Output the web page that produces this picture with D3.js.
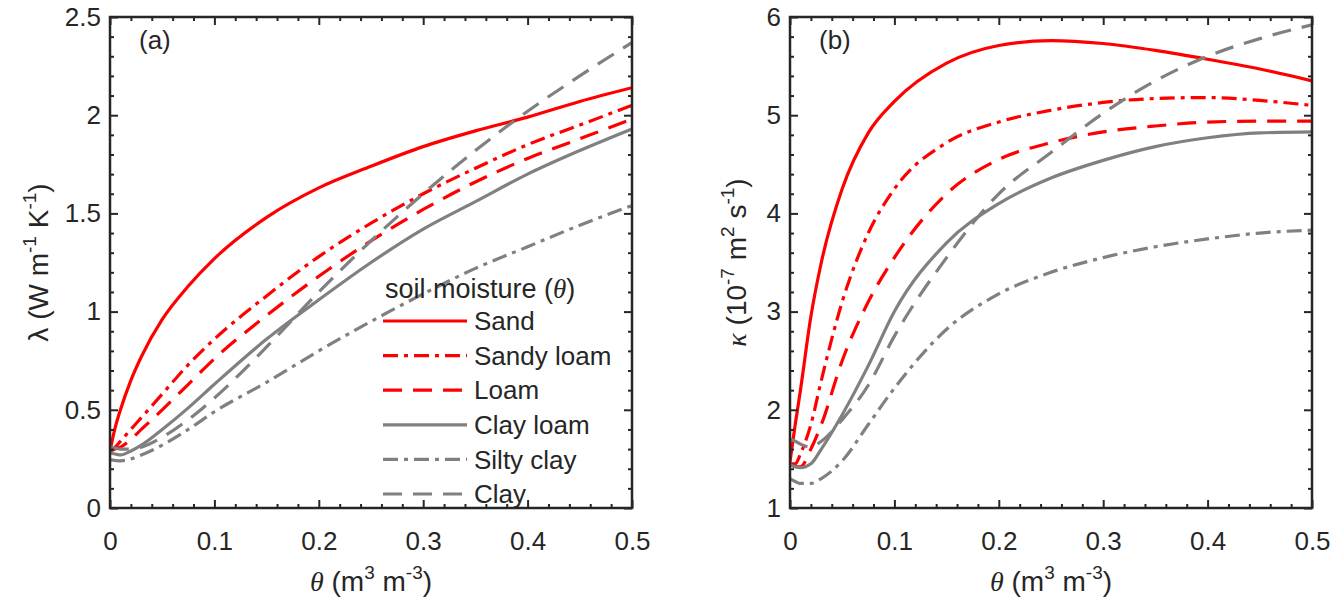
<!DOCTYPE html>
<html>
<head>
<meta charset="utf-8">
<script src="https://cdn.jsdelivr.net/npm/d3@7"></script>
<style>
  body { margin: 0; background: #fff; }
  text { font-family: "Liberation Sans", Arial, sans-serif; fill: #262626; }
  .serif { font-family: "Liberation Serif", "Times New Roman", serif; font-style: italic; }
</style>
</head>
<body>
<div id="chart"></div>
<script>
// soil moisture grid (m3 m-3)
var thetaGrid = [0, 0.005, 0.01, 0.02, 0.03, 0.05, 0.075, 0.1, 0.15, 0.2, 0.25, 0.3, 0.35, 0.4, 0.45, 0.5];

var soilNames = ["Sand", "Sandy loam", "Loam", "Clay loam", "Silty clay", "Clay"];

// (a) thermal conductivity, W m-1 K-1
var lambdaSand      = [0.29, 0.41, 0.50, 0.65, 0.77, 0.96, 1.13, 1.27, 1.48, 1.63, 1.74, 1.84, 1.92, 1.99, 2.07, 2.14];
var lambdaSandyLoam = [0.29, 0.31, 0.34, 0.40, 0.46, 0.58, 0.73, 0.86, 1.08, 1.28, 1.45, 1.60, 1.73, 1.85, 1.95, 2.05];
var lambdaLoam      = [0.29, 0.30, 0.31, 0.35, 0.40, 0.50, 0.63, 0.76, 0.98, 1.18, 1.36, 1.52, 1.66, 1.78, 1.88, 1.98];
var lambdaClayLoam  = [0.28, 0.275, 0.27, 0.29, 0.32, 0.40, 0.51, 0.63, 0.86, 1.06, 1.25, 1.42, 1.56, 1.70, 1.82, 1.93];
var lambdaSiltyClay = [0.245, 0.242, 0.24, 0.25, 0.27, 0.32, 0.40, 0.49, 0.64, 0.80, 0.95, 1.09, 1.22, 1.33, 1.44, 1.54];
var lambdaClay      = [0.31, 0.305, 0.30, 0.30, 0.31, 0.36, 0.45, 0.56, 0.82, 1.10, 1.36, 1.60, 1.82, 2.02, 2.20, 2.37];

// (b) thermal diffusivity, 10^-7 m2 s-1
var kappaSand      = [1.47, 1.85, 2.20, 2.95, 3.50, 4.25, 4.82, 5.14, 5.53, 5.71, 5.76, 5.73, 5.66, 5.57, 5.47, 5.35];
var kappaSandyLoam = [1.45, 1.45, 1.55, 1.85, 2.30, 3.10, 3.80, 4.25, 4.72, 4.93, 5.05, 5.13, 5.17, 5.18, 5.15, 5.10];
var kappaLoam      = [1.45, 1.42, 1.42, 1.60, 1.85, 2.50, 3.10, 3.55, 4.20, 4.55, 4.72, 4.83, 4.89, 4.93, 4.94, 4.94];
var kappaClayLoam  = [1.44, 1.42, 1.41, 1.45, 1.60, 1.95, 2.45, 3.00, 3.70, 4.10, 4.36, 4.54, 4.68, 4.77, 4.82, 4.83];
var kappaSiltyClay = [1.30, 1.27, 1.25, 1.25, 1.30, 1.48, 1.85, 2.22, 2.82, 3.18, 3.40, 3.55, 3.66, 3.74, 3.80, 3.83];
var kappaClay      = [1.70, 1.68, 1.65, 1.62, 1.68, 1.90, 2.25, 2.75, 3.55, 4.20, 4.62, 5.02, 5.35, 5.60, 5.78, 5.92];

var xTicks = [0, 0.1, 0.2, 0.3, 0.4, 0.5];
var xTickLabels = ["0", "0.1", "0.2", "0.3", "0.4", "0.5"];
var lambdaTicks = [0, 0.5, 1, 1.5, 2, 2.5];
var lambdaTickLabels = ["0", "0.5", "1", "1.5", "2", "2.5"];
var kappaTicks = [1, 2, 3, 4, 5, 6];
var kappaTickLabels = ["1", "2", "3", "4", "5", "6"];

// line styles per soil, same order as soilNames
var red = "#ff0000", grey = "#808080";
var soilStyles = [
  {color: red,  dash: null},
  {color: red,  dash: "15,6,4,6"},
  {color: red,  dash: "19,11"},
  {color: grey, dash: null},
  {color: grey, dash: "15,6,4,6"},
  {color: grey, dash: "19,11"}
];

var svgWidth = 1344, svgHeight = 603;
var plotTop = 17, plotBottom = 508;
var axisColor = "#262626";

var svg = d3.select("#chart").append("svg")
  .attr("width", svgWidth)
  .attr("height", svgHeight);

var panels = [
  {tag: "(a)", left: 110, right: 632, domain: [0, 2.5], ticks: lambdaTicks, tickLabels: lambdaTickLabels, minorStep: 0.1,
   series: [lambdaSand, lambdaSandyLoam, lambdaLoam, lambdaClayLoam, lambdaSiltyClay, lambdaClay]},
  {tag: "(b)", left: 790, right: 1312, domain: [1, 6], ticks: kappaTicks, tickLabels: kappaTickLabels, minorStep: 0.2,
   series: [kappaSand, kappaSandyLoam, kappaLoam, kappaClayLoam, kappaSiltyClay, kappaClay]}
];

function cleanAxis(g) {
  g.select(".domain").remove();
  g.selectAll(".tick line").attr("stroke", axisColor).attr("stroke-width", 2);
  g.selectAll(".tick text").attr("fill", axisColor).style("font-size", "26px")
    .style("font-family", "'Liberation Sans', Arial, sans-serif");
}

panels.forEach(function(p, pi) {
  var x = d3.scaleLinear().domain([0, 0.5]).range([p.left, p.right]);
  var y = d3.scaleLinear().domain(p.domain).range([plotBottom, plotTop]);
  var g = svg.append("g");

  var xMinor = d3.range(0, 0.5001, 0.02).filter(function(v) { return Math.abs(v * 10 - Math.round(v * 10)) > 1e-6; });
  var yMinor = d3.range(p.domain[0], p.domain[1] + 1e-6, p.minorStep).filter(function(v) {
    return p.ticks.every(function(t) { return Math.abs(t - v) > 1e-6; });
  });

  // clip for curves
  var clipId = "clip" + pi;
  svg.append("clipPath").attr("id", clipId).append("rect")
    .attr("x", p.left).attr("y", plotTop).attr("width", p.right - p.left).attr("height", plotBottom - plotTop);

  var line = d3.line()
    .x(function(d, i) { return x(thetaGrid[i]); })
    .y(function(d) { return y(d); })
    .curve(d3.curveMonotoneX);

  g.append("g").attr("clip-path", "url(#" + clipId + ")")
    .selectAll("path")
    .data(p.series)
    .enter()
    .append("path")
    .attr("d", line)
    .attr("fill", "none")
    .attr("stroke", function(d, i) { return soilStyles[i].color; })
    .attr("stroke-width", 3.2)
    .attr("stroke-dasharray", function(d, i) { return soilStyles[i].dash; });

  // major ticks with labels
  g.append("g").attr("transform", "translate(0," + plotBottom + ")")
    .call(d3.axisBottom(x).tickValues(xTicks).tickSize(-8).tickPadding(24)
      .tickFormat(function(d, i) { return xTickLabels[i]; }))
    .call(cleanAxis);
  g.append("g").attr("transform", "translate(" + p.left + ",0)")
    .call(d3.axisLeft(y).tickValues(p.ticks).tickSize(-8).tickPadding(9)
      .tickFormat(function(d, i) { return p.tickLabels[i]; }))
    .call(cleanAxis);
  g.append("g").attr("transform", "translate(0," + plotTop + ")")
    .call(d3.axisTop(x).tickValues(xTicks).tickSize(-8).tickFormat(""))
    .call(cleanAxis);
  g.append("g").attr("transform", "translate(" + p.right + ",0)")
    .call(d3.axisRight(y).tickValues(p.ticks).tickSize(-8).tickFormat(""))
    .call(cleanAxis);

  // minor ticks
  g.append("g").attr("transform", "translate(0," + plotBottom + ")")
    .call(d3.axisBottom(x).tickValues(xMinor).tickSize(-4).tickFormat("")).call(cleanAxis);
  g.append("g").attr("transform", "translate(0," + plotTop + ")")
    .call(d3.axisTop(x).tickValues(xMinor).tickSize(-4).tickFormat("")).call(cleanAxis);
  g.append("g").attr("transform", "translate(" + p.left + ",0)")
    .call(d3.axisLeft(y).tickValues(yMinor).tickSize(-4).tickFormat("")).call(cleanAxis);
  g.append("g").attr("transform", "translate(" + p.right + ",0)")
    .call(d3.axisRight(y).tickValues(yMinor).tickSize(-4).tickFormat("")).call(cleanAxis);

  // box
  g.append("rect")
    .attr("x", p.left).attr("y", plotTop)
    .attr("width", p.right - p.left).attr("height", plotBottom - plotTop)
    .attr("fill", "none").attr("stroke", axisColor).attr("stroke-width", 2.5);

  // panel tag
  g.append("text").attr("x", p.left + 29).attr("y", 49)
    .style("font-size", "26px").text(p.tag);

  // x axis title
  var xt = g.append("text")
    .attr("x", (p.left + p.right) / 2).attr("y", 591)
    .attr("text-anchor", "middle").style("font-size", "28px");
  xt.append("tspan").attr("class", "serif").text("θ");
  xt.append("tspan").text(" (m");
  xt.append("tspan").attr("dy", -12).style("font-size", "19px").text("3");
  xt.append("tspan").attr("dy", 12).text(" m");
  xt.append("tspan").attr("dy", -12).style("font-size", "19px").text("-3");
  xt.append("tspan").attr("dy", 12).text(")");
});

// y axis titles
var yt1 = svg.append("text")
  .attr("transform", "translate(48," + ((plotTop + plotBottom) / 2) + ") rotate(-90)")
  .attr("text-anchor", "middle").style("font-size", "28px");
yt1.append("tspan").text("λ (W m");
yt1.append("tspan").attr("dy", -12).style("font-size", "19px").text("-1");
yt1.append("tspan").attr("dy", 12).text(" K");
yt1.append("tspan").attr("dy", -12).style("font-size", "19px").text("-1");
yt1.append("tspan").attr("dy", 12).text(")");

var yt2 = svg.append("text")
  .attr("transform", "translate(746," + ((plotTop + plotBottom) / 2) + ") rotate(-90)")
  .attr("text-anchor", "middle").style("font-size", "28px");
yt2.append("tspan").attr("class", "serif").text("κ");
yt2.append("tspan").text(" (10");
yt2.append("tspan").attr("dy", -12).style("font-size", "19px").text("-7");
yt2.append("tspan").attr("dy", 12).text(" m");
yt2.append("tspan").attr("dy", -12).style("font-size", "19px").text("2");
yt2.append("tspan").attr("dy", 12).text(" s");
yt2.append("tspan").attr("dy", -12).style("font-size", "19px").text("-1");
yt2.append("tspan").attr("dy", 12).text(")");

// legend in panel (a)
var legend = svg.append("g");
var lt = legend.append("text").attr("x", 385).attr("y", 298).style("font-size", "27px");
lt.append("tspan").text("soil moisture (");
lt.append("tspan").attr("class", "serif").text("θ");
lt.append("tspan").text(")");

var rows = legend.selectAll("g.row")
  .data(soilNames)
  .enter()
  .append("g")
  .attr("class", "row")
  .attr("transform", function(d, i) { return "translate(0," + (321 + i * 34.6) + ")"; });
rows.append("line")
  .attr("x1", 383).attr("x2", 467)
  .attr("stroke", function(d, i) { return soilStyles[i].color; })
  .attr("stroke-width", 3.2)
  .attr("stroke-dasharray", function(d, i) { return soilStyles[i].dash; });
rows.append("text")
  .attr("x", 474).attr("dy", "0.35em")
  .style("font-size", "26px")
  .text(function(d) { return d; });
</script>
</body>
</html>
